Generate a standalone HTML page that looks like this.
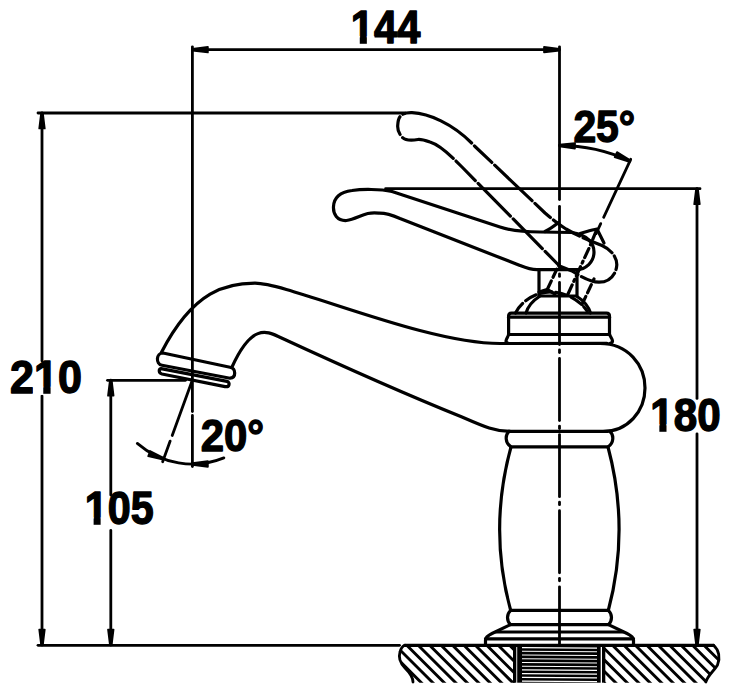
<!DOCTYPE html>
<html><head><meta charset="utf-8"><style>html,body{margin:0;padding:0;background:#fff;width:731px;height:693px;overflow:hidden}svg{display:block}</style></head>
<body><svg width="731" height="693" viewBox="0 0 731 693">
<rect width="731" height="693" fill="#fff"/>
<g stroke="#000" stroke-linecap="round" stroke-linejoin="round" fill="none">
<line x1="192.4" y1="46.8" x2="192.4" y2="411.5" stroke-width="2.8" />
<line x1="192.4" y1="415.5" x2="192.4" y2="466.5" stroke-width="2.8" />
<line x1="559.5" y1="46.8" x2="559.5" y2="199.5" stroke-width="2.8" />
<line x1="192.4" y1="49.7" x2="559.5" y2="49.7" stroke-width="2.8" />
<polygon points="192.40,48.80 207.90,46.90 207.90,52.50 192.40,50.60" fill="#000" stroke="#000" stroke-width="1.7" stroke-linejoin="round"/>
<polygon points="559.50,50.60 544.00,52.50 544.00,46.90 559.50,48.80" fill="#000" stroke="#000" stroke-width="1.7" stroke-linejoin="round"/>
<g transform="translate(350.81,42.54) scale(0.4166,0.4634)"><text font-size="100" font-weight="bold" font-family="Liberation Sans" fill="#000" stroke="#000" stroke-width="3" stroke-linejoin="round">144</text><rect x="-2" y="-14" width="23.5" height="18" fill="#fff" stroke="none"/><rect x="38.5" y="-14" width="18" height="18" fill="#fff" stroke="none"/></g>
<line x1="38" y1="113" x2="405" y2="113" stroke-width="2.8" />
<line x1="42" y1="113" x2="42" y2="361" stroke-width="2.8" />
<line x1="42" y1="396" x2="42" y2="645" stroke-width="2.8" />
<polygon points="42.90,113.00 44.80,128.50 39.20,128.50 41.10,113.00" fill="#000" stroke="#000" stroke-width="1.7" stroke-linejoin="round"/>
<polygon points="41.10,645.00 39.20,629.50 44.80,629.50 42.90,645.00" fill="#000" stroke="#000" stroke-width="1.7" stroke-linejoin="round"/>
<g transform="translate(10.04,393.08) scale(0.4309,0.4589)"><text font-size="100" font-weight="bold" font-family="Liberation Sans" fill="#000" stroke="#000" stroke-width="3" stroke-linejoin="round">210</text><rect x="53.6" y="-14" width="23.499999999999993" height="18" fill="#fff" stroke="none"/><rect x="94.1" y="-14" width="18" height="18" fill="#fff" stroke="none"/></g>
<line x1="107.5" y1="380.3" x2="185.5" y2="380.3" stroke-width="2.8" />
<line x1="110.8" y1="380.2" x2="110.8" y2="495" stroke-width="2.8" />
<line x1="110.8" y1="530.5" x2="110.8" y2="645" stroke-width="2.8" />
<polygon points="111.70,380.20 113.60,395.70 108.00,395.70 109.90,380.20" fill="#000" stroke="#000" stroke-width="1.7" stroke-linejoin="round"/>
<polygon points="109.90,645.00 108.00,629.50 113.60,629.50 111.70,645.00" fill="#000" stroke="#000" stroke-width="1.7" stroke-linejoin="round"/>
<g transform="translate(84.73,523.87) scale(0.4131,0.4630)"><text font-size="100" font-weight="bold" font-family="Liberation Sans" fill="#000" stroke="#000" stroke-width="3" stroke-linejoin="round">105</text><rect x="-2" y="-14" width="23.5" height="18" fill="#fff" stroke="none"/><rect x="38.5" y="-14" width="18" height="18" fill="#fff" stroke="none"/></g>
<line x1="38" y1="645.3" x2="399.5" y2="645.3" stroke-width="2.8" />
<line x1="385.6" y1="188.7" x2="700" y2="188.7" stroke-width="2.8" />
<line x1="697" y1="188.7" x2="697" y2="398.4" stroke-width="2.8" />
<line x1="697" y1="433.8" x2="697" y2="645" stroke-width="2.8" />
<polygon points="697.90,188.70 699.80,204.20 694.20,204.20 696.10,188.70" fill="#000" stroke="#000" stroke-width="1.7" stroke-linejoin="round"/>
<polygon points="696.10,645.00 694.20,629.50 699.80,629.50 697.90,645.00" fill="#000" stroke="#000" stroke-width="1.7" stroke-linejoin="round"/>
<g transform="translate(650.28,430.58) scale(0.4215,0.4616)"><text font-size="100" font-weight="bold" font-family="Liberation Sans" fill="#000" stroke="#000" stroke-width="3" stroke-linejoin="round">180</text><rect x="-2" y="-14" width="23.5" height="18" fill="#fff" stroke="none"/><rect x="38.5" y="-14" width="18" height="18" fill="#fff" stroke="none"/></g>
<path d="M 559.5 145.5 A 166.5 166.5 0 0 1 629.87 161.10" fill="none" stroke-width="2.8"/>
<polygon points="559.52,144.60 575.05,143.01 574.94,148.61 559.48,146.40" fill="#000" stroke="#000" stroke-width="1.7" stroke-linejoin="round"/>
<polygon points="629.49,161.92 614.63,157.09 617.00,152.01 630.25,160.28" fill="#000" stroke="#000" stroke-width="1.7" stroke-linejoin="round"/>
<line x1="630.71" y1="159.29" x2="603.66" y2="217.29" stroke-width="2.8" />
<line x1="600.71" y1="223.63" x2="596.06" y2="233.6" stroke-width="2.8" />
<g transform="translate(573.38,142.22) scale(0.4089,0.4384)"><text font-size="100" font-weight="bold" font-family="Liberation Sans" fill="#000" stroke="#000" stroke-width="3" stroke-linejoin="round">25°</text></g>
<path d="M 137.29 443.40 A 84 84 0 0 0 223.87 457.88" fill="none" stroke-width="2.8"/>
<polygon points="163.36,459.78 148.15,456.26 150.06,451.00 163.98,458.09" fill="#000" stroke="#000" stroke-width="1.7" stroke-linejoin="round"/>
<polygon points="192.40,463.10 207.90,461.20 207.90,466.80 192.40,464.90" fill="#000" stroke="#000" stroke-width="1.7" stroke-linejoin="round"/>
<line x1="192.4" y1="380.0" x2="172.22" y2="435.44" stroke-width="2.8" />
<line x1="170.17" y1="441.08" x2="162.64" y2="461.75" stroke-width="2.8" />
<g transform="translate(200.76,450.70) scale(0.4192,0.4493)"><text font-size="100" font-weight="bold" font-family="Liberation Sans" fill="#000" stroke="#000" stroke-width="3" stroke-linejoin="round">20°</text></g>
<line x1="559.5" y1="206.3" x2="559.5" y2="268.4" stroke-width="2.8" />
<line x1="559.5" y1="273.9" x2="559.5" y2="276.4" stroke-width="2.8" />
<line x1="559.5" y1="282.4" x2="559.5" y2="344.5" stroke-width="2.8" />
<line x1="559.5" y1="350.0" x2="559.5" y2="352.5" stroke-width="2.8" />
<line x1="559.5" y1="358.5" x2="559.5" y2="420.6" stroke-width="2.8" />
<line x1="559.5" y1="426.1" x2="559.5" y2="428.6" stroke-width="2.8" />
<line x1="559.5" y1="434.6" x2="559.5" y2="496.7" stroke-width="2.8" />
<line x1="559.5" y1="502.2" x2="559.5" y2="504.7" stroke-width="2.8" />
<line x1="559.5" y1="510.7" x2="559.5" y2="572.8" stroke-width="2.8" />
<line x1="559.5" y1="578.3" x2="559.5" y2="580.8" stroke-width="2.8" />
<line x1="559.5" y1="586.8" x2="559.5" y2="645" stroke-width="2.8" />
<path d="M 607 343.4 L 500 343.5 C 423.3 343.5, 289.3 283.2, 255 283.2 C 227.7 283.2, 193.9 289.5, 161.5 352.3" fill="none" stroke-width="3.2" />
<path d="M 600 343.5 C 628 343.5, 645 365, 645 388 C 645 411, 628 431.4, 603 431.4 L 508.6 431.4" fill="none" stroke-width="3.2" />
<path d="M 510 431.4 C 495 431.4, 485 427, 462 417 C 420 400, 340 365, 281 337.7 C 268.5 332.3, 253 320.9, 232 367" fill="none" stroke-width="3.2" />
<path d="M 163 353 L 230 367.3 C 236 368.5, 236.5 377.5, 230 378.2 L 162 365.3 C 155.5 364, 156 353, 163 353 Z" fill="none" stroke-width="3.2" />
<path d="M 161 368.6 L 227 381.4 C 230.5 382.4, 229.5 387.5, 225 386.6 L 162 374 C 158.5 373, 158.5 369.1, 161 368.6 Z" fill="none" stroke-width="3.2" />
<path d="M 509 431.5 C 505 435, 505 443, 511 446.8 L 608 446.8 C 614 443, 614 435, 610 431.5" fill="none" stroke-width="3.2" />
<path d="M 511 447 Q 488.4 529 510.7 610.5" fill="none" stroke-width="3.2" />
<path d="M 608 447 Q 630 529 608.3 610.5" fill="none" stroke-width="3.2" />
<path d="M 510.7 610.4 L 608.3 610.4 C 612.5 614, 612.5 621, 608.5 624.6 L 510.5 624.6 C 506.5 621, 506.5 614, 510.7 610.4 Z" fill="none" stroke-width="3.2" />
<path d="M 510.5 624.6 L 492 633.5 C 487 636, 485.5 637.5, 485.5 640 L 485.5 645" fill="none" stroke-width="3.2" />
<path d="M 608.5 624.6 L 627 633.5 C 632 636, 633.5 637.5, 633.5 640 L 633.5 645" fill="none" stroke-width="3.2" />
<line x1="496" y1="632" x2="623" y2="632" stroke-width="3.2" />
<line x1="485.5" y1="638.8" x2="633.5" y2="638.8" stroke-width="3.2" />
<path d="M 508.6 334.5 L 508.6 316 Q 508.6 313.1 511.5 313.1 L 606.5 313.1 Q 609.5 313.1 609.5 316 L 609.5 334.5" fill="none" stroke-width="3.2" />
<line x1="508.6" y1="317.2" x2="609.5" y2="317.2" stroke-width="3.2" />
<line x1="508.6" y1="334.5" x2="609.5" y2="334.5" stroke-width="3.2" />
<path d="M 508.6 334.5 C 508 337, 506 339, 506 341 C 506 342.5, 507 343.3, 509 343.5" fill="none" stroke-width="3.2" />
<path d="M 609.5 334.5 C 610.5 337, 612.5 339, 612.5 341 C 612.5 342.5, 611.5 343.3, 609.5 343.5" fill="none" stroke-width="3.2" />
<path d="M 539 269.5 L 539 296 M 577 269.5 L 577 296 M 539 296 L 577 296" fill="none" stroke-width="3.2" />
<path d="M 526 313 C 528.5 305, 533 300.5, 539.4 296.5 M 577 296.5 C 583.5 300.5, 588 305, 590.5 313" fill="none" stroke-width="3.2" />
<path d="M 515.5 313 C 522 300, 538 291, 553 292 C 566 293, 580 300, 587 311" fill="none" stroke-width="3.2" stroke-dasharray="12 4"/>
<path d="M 547.5 289 L 559 264.5" fill="none" stroke-width="3.2" stroke-dasharray="9 4"/>
<path d="M 582 304.5 L 594 279" fill="none" stroke-width="3.2" stroke-dasharray="9 4"/>
<path d="M 568 294 L 579 270 L 590 246 L 597 229" fill="none" stroke-width="3.2" stroke-dasharray="10 4 2 4"/>
<path d="M 539 292 L 547 289.5 L 555 294" fill="none" stroke-width="3.2" />
<path d="M 379 213.2 C 365 211, 358 219, 346.5 220.5 C 337 221, 333 214, 333.5 206.5 C 334 198, 340 192, 352 190.5 C 362 189, 380 189, 392 191.5 L 500 227 C 510 230.5, 520 232, 540 232 L 572 232.5 C 586 234, 594 243, 594 252 C 594 262, 586 269.5, 576 269.7 L 537 269.7 C 530 269.7, 526 268, 520 265.5 L 400 218.5 C 393 215.5, 386 213, 379 213.2 Z" fill="none" stroke-width="3.2" />
<path d="M 545 231.5 C 550 229, 554 226, 558.2 222.7" fill="none" stroke-width="3.2" />
<path d="M 580 233.6 C 586 232, 591 230, 597 229 L 604 243" fill="none" stroke-width="3.2" />
<path d="M 418 139.5 C 412 140.5, 406 141, 402.5 137.5 C 398.5 133.5, 397.5 129, 397.7 125.5 C 398 120, 399 116.5, 402.6 114.4 C 405 113, 408 112.6, 412 112.7 C 430 113.5, 455 125, 475 146.5 L 545 213 C 552 219, 558 224, 566 229 C 578 236, 590 241, 602 245.5 C 612 250, 617 258, 616.8 265 C 616 276, 608 282.2, 599 282.2 C 590 282, 580 276, 572 271 L 559.5 266 L 462 167 C 450 155, 440 145, 430 142 C 424 140, 421 139.2, 418 139.5 Z" fill="none" stroke-width="3.2" stroke-dasharray="16.0 4 18.5 4 77.5 4 24.0 4 51.5 4 20.75 4 30.75 4 32.75 4 14.0 4 37.25 4 41.0 4 41.5 4 46.0 4 27.25 4 42.07 0.01"/>
<defs><clipPath id="cl"><path d="M 404.8 645 L 515 645 L 515 682.7 L 413 682.7 C 413 678, 410 673, 405 668 C 400 663, 398.5 657, 400 652 C 401 648, 403 646, 404.8 645 Z"/></clipPath><clipPath id="cr"><path d="M 604 645 L 713.5 645 C 719 650, 720.5 658, 717.5 665 C 714 671, 708 675, 705.8 682.7 L 604 682.7 Z"/></clipPath></defs>
<g clip-path="url(#cl)"><path d="M 335.22 642.3 L 380.22 687.3 M 346.65 642.3 L 391.65 687.3 M 358.08 642.3 L 403.08 687.3 M 369.51 642.3 L 414.51 687.3 M 380.94 642.3 L 425.94 687.3 M 392.37 642.3 L 437.37 687.3 M 403.80 642.3 L 448.80 687.3 M 415.23 642.3 L 460.23 687.3 M 426.66 642.3 L 471.66 687.3 M 438.09 642.3 L 483.09 687.3 M 449.52 642.3 L 494.52 687.3 M 460.95 642.3 L 505.95 687.3 M 472.38 642.3 L 517.38 687.3 M 483.81 642.3 L 528.81 687.3 M 495.24 642.3 L 540.24 687.3 M 506.67 642.3 L 551.67 687.3 M 518.10 642.3 L 563.10 687.3 M 529.53 642.3 L 574.53 687.3 M 540.96 642.3 L 585.96 687.3 M 552.39 642.3 L 597.39 687.3 M 563.82 642.3 L 608.82 687.3 M 575.25 642.3 L 620.25 687.3 M 586.68 642.3 L 631.68 687.3 M 598.11 642.3 L 643.11 687.3 M 609.54 642.3 L 654.54 687.3 M 620.97 642.3 L 665.97 687.3 M 632.40 642.3 L 677.40 687.3 M 643.83 642.3 L 688.83 687.3 M 655.26 642.3 L 700.26 687.3 M 666.69 642.3 L 711.69 687.3 M 678.12 642.3 L 723.12 687.3 M 689.55 642.3 L 734.55 687.3 M 700.98 642.3 L 745.98 687.3 M 712.41 642.3 L 757.41 687.3 M 723.84 642.3 L 768.84 687.3 M 735.27 642.3 L 780.27 687.3" stroke-width="2.9" stroke-linecap="butt" fill="none"/></g>
<g clip-path="url(#cr)"><path d="M 335.22 642.3 L 380.22 687.3 M 346.65 642.3 L 391.65 687.3 M 358.08 642.3 L 403.08 687.3 M 369.51 642.3 L 414.51 687.3 M 380.94 642.3 L 425.94 687.3 M 392.37 642.3 L 437.37 687.3 M 403.80 642.3 L 448.80 687.3 M 415.23 642.3 L 460.23 687.3 M 426.66 642.3 L 471.66 687.3 M 438.09 642.3 L 483.09 687.3 M 449.52 642.3 L 494.52 687.3 M 460.95 642.3 L 505.95 687.3 M 472.38 642.3 L 517.38 687.3 M 483.81 642.3 L 528.81 687.3 M 495.24 642.3 L 540.24 687.3 M 506.67 642.3 L 551.67 687.3 M 518.10 642.3 L 563.10 687.3 M 529.53 642.3 L 574.53 687.3 M 540.96 642.3 L 585.96 687.3 M 552.39 642.3 L 597.39 687.3 M 563.82 642.3 L 608.82 687.3 M 575.25 642.3 L 620.25 687.3 M 586.68 642.3 L 631.68 687.3 M 598.11 642.3 L 643.11 687.3 M 609.54 642.3 L 654.54 687.3 M 620.97 642.3 L 665.97 687.3 M 632.40 642.3 L 677.40 687.3 M 643.83 642.3 L 688.83 687.3 M 655.26 642.3 L 700.26 687.3 M 666.69 642.3 L 711.69 687.3 M 678.12 642.3 L 723.12 687.3 M 689.55 642.3 L 734.55 687.3 M 700.98 642.3 L 745.98 687.3 M 712.41 642.3 L 757.41 687.3 M 723.84 642.3 L 768.84 687.3 M 735.27 642.3 L 780.27 687.3" stroke-width="2.9" stroke-linecap="butt" fill="none"/></g>
<path d="M 404.8 645.3 L 713.5 645.3" fill="none" stroke-width="3.2" />
<path d="M 404.8 645.3 C 403 646, 401 648, 400 652 C 398.5 657, 400 663, 405 668 C 410 673, 413 678, 413 682" fill="none" stroke-width="2.8" />
<path d="M 713.5 645.3 C 719 650, 720.5 658, 717.5 665 C 714 671, 708 675, 705.8 682" fill="none" stroke-width="2.8" />
<rect x="517.2" y="645.5" width="83.5" height="37.2" fill="#000" stroke="none"/>
<path d="M 522 647.60 L 597 648.10 M 522 651.32 L 597 651.82 M 522 655.04 L 597 655.54 M 522 658.76 L 597 659.26 M 522 662.48 L 597 662.98 M 522 666.20 L 597 666.70 M 522 669.92 L 597 670.42 M 522 673.64 L 597 674.14 M 522 677.36 L 597 677.86 M 522 681.08 L 597 681.58" stroke="#fff" stroke-width="1.1" stroke-linecap="butt" fill="none"/>
<rect x="513" y="645.5" width="3.3" height="37.2" fill="#000" stroke="none"/>
<rect x="602" y="645.5" width="3.3" height="37.2" fill="#000" stroke="none"/>
</g></svg></body></html>
